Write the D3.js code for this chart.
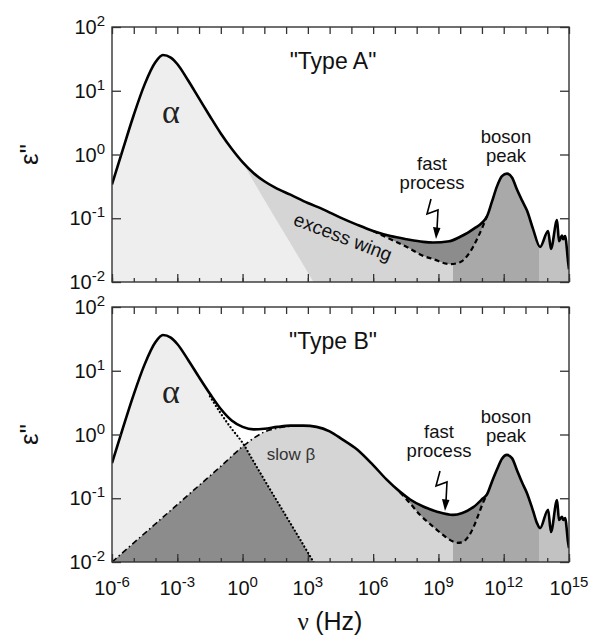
<!DOCTYPE html>
<html><head><meta charset="utf-8">
<script src="https://cdn.jsdelivr.net/npm/d3@7"></script>
<style>body{margin:0;background:#fff;}</style>
</head><body><svg id="c" width="592" height="635" font-family="Liberation Sans, Arial, sans-serif"></svg>
<script>
// ---- data (log10 of frequency in Hz, log10 of eps'') ----
const alphaNu  = [-6,-5.5,-5,-4.5,-4,-3.66,-3.3,-3,-2.5,-2,-1.5,-1,-0.5,0,0.5,1,2,3,3.6];
const alphaEps = [-0.47,0.08,0.62,1.1,1.45,1.56,1.52,1.42,1.16,0.88,0.6,0.33,0.09,-0.13,-0.42,-0.71,-1.28,-1.85,-2.2];

const totalANu  = [-6,-5.5,-5,-4.5,-4,-3.66,-3.3,-3,-2.5,-2,-1.5,-1,-0.5,0,0.5,1,1.5,2.2,3,3.7,4.5,5.25,6,6.8,7.55,8.3,8.75,9.5,10,10.6,11.23,11.46,11.69,11.92,12.15,12.38,12.61,12.84,13.07,13.35,13.67,14.04,14.17,14.45,14.54,14.68,14.73,14.82,14.96,15];
const totalAEps = [-0.47,0.08,0.62,1.1,1.45,1.56,1.52,1.42,1.16,0.88,0.6,0.33,0.09,-0.12,-0.29,-0.42,-0.52,-0.63,-0.76,-0.86,-0.99,-1.1,-1.2,-1.28,-1.33,-1.37,-1.38,-1.36,-1.29,-1.17,-0.97,-0.74,-0.5,-0.34,-0.3,-0.36,-0.55,-0.72,-0.88,-1.17,-1.45,-1.2,-1.48,-1.03,-1.36,-1.27,-1.33,-1.28,-1.69,-1.8];
const dashedANu  = [6,6.8,7.55,8.3,8.75,9.53,9.99,10.45,10.77,11.05,11.23];
const dashedAEps = [-1.2,-1.33,-1.45,-1.59,-1.64,-1.72,-1.69,-1.53,-1.33,-1.12,-0.97];

const totalBNu  = [-6,-5.5,-5,-4.5,-4,-3.66,-3.3,-3,-2.5,-2,-1.5,-1,-0.5,0,0.5,1,1.6,2.2,2.8,3.4,4,4.6,5.25,6,6.6,7.24,7.7,8.3,8.94,9.67,10.1,10.6,11.05,11.23,11.46,11.69,11.92,12.15,12.38,12.61,12.84,13.07,13.35,13.53,13.67,14.04,14.17,14.45,14.54,14.68,14.73,14.82,14.96,15];
const totalBEps = [-0.45,0.1,0.63,1.1,1.45,1.56,1.52,1.42,1.17,0.9,0.64,0.4,0.22,0.12,0.08,0.09,0.12,0.14,0.14,0.12,0.05,-0.08,-0.23,-0.48,-0.7,-0.9,-1.02,-1.13,-1.21,-1.26,-1.23,-1.14,-1.0,-0.94,-0.74,-0.55,-0.38,-0.32,-0.37,-0.56,-0.75,-0.92,-1.2,-1.39,-1.47,-1.18,-1.53,-1.03,-1.34,-1.29,-1.34,-1.31,-1.7,-1.78];
const betaBNu  = [-6,-5,-4,-3,-2,-1,0,0.5,1,1.6,2.2,2.8,3.4,4,4.6,5.25,6,6.6,7.24];
const betaBEps = [-2.0,-1.7,-1.4,-1.1,-0.8,-0.5,-0.19,-0.06,0.04,0.1,0.13,0.13,0.11,0.04,-0.09,-0.24,-0.49,-0.71,-0.91];
const dashedBNu  = [7.24,7.7,8.15,8.6,8.94,9.3,9.67,9.85,10.1,10.31,10.55,10.77,11.05,11.23];
const dashedBEps = [-0.91,-1.08,-1.26,-1.4,-1.5,-1.6,-1.68,-1.7,-1.69,-1.63,-1.5,-1.32,-1.07,-0.94];

// region edges (log10 Hz)
const fastEdgesA = [6, 11.23];
const fastEdgesB = [7.24, 11.23];
const bosonEdges = [9.67, 13.62];
const tailEdges  = [13.62, 15];

const xMajor = [-6,-3,0,3,6,9,12,15];
const xAll = d3.range(-6,16);
const yDecades = [-2,-1,0,1,2];
const panelTitles = ['"Type A"', '"Type B"'];

// ---- drawing ----
const svg = d3.select("#c");
const defs = svg.append("defs");
const X0 = 112, X1 = 569;
const SERIF = "Liberation Serif, 'DejaVu Serif', serif";
const x = d3.scaleLog().domain([1e-6,1e15]).range([X0,X1]);
const P = (a,b)=>a.map((v,i)=>({nu:Math.pow(10,v), eps:Math.pow(10,b[i])}));
const C = {lightest:'#eeeeee', light:'#d5d5d5', dark:'#8c8c8c', boson:'#a9a9a9', tail:'#c2c2c2'};

const totalA = P(totalANu,totalAEps), dashedA = P(dashedANu,dashedAEps);
const totalB = P(totalBNu,totalBEps), dashedB = P(dashedBNu,dashedBEps), betaB = P(betaBNu,betaBEps);
const alpha = P(alphaNu,alphaEps);
const baseA = totalA.filter(d=>d.nu<1e6).concat(dashedA, totalA.filter(d=>d.nu>Math.pow(10,11.23)));
const baseB = betaB.concat(dashedB.slice(1), totalB.filter(d=>d.nu>Math.pow(10,11.23)));

const panels = [
  {top:27, bottom:282, total:totalA, dashed:dashedA, base:baseA, fast:fastEdgesA, type:'A',
   fastTxt:[143,162], fastX:432, tip:[436,239]},
  {top:307, bottom:562, total:totalB, dashed:dashedB, base:baseB, fast:fastEdgesB, type:'B',
   fastTxt:[131,150], fastX:439, tip:[445,511]}
];

panels.forEach((p,i)=>{
  const y = d3.scaleLog().domain([1e-2,1e2]).range([p.bottom,p.top]);
  const line = d3.line().x(d=>x(d.nu)).y(d=>y(d.eps)).curve(d3.curveMonotoneX);
  const area = d3.area().x(d=>x(d.nu)).y0(p.bottom+10).y1(d=>y(d.eps)).curve(d3.curveMonotoneX);
  const clipId = (n)=>`c${i}_${n}`;
  const rectClip = (n, e0, e1)=>{
    defs.append("clipPath").attr("id",clipId(n)).append("rect")
      .attr("x", x(Math.pow(10,e0))).attr("y", p.top)
      .attr("width", x(Math.pow(10,e1))-x(Math.pow(10,e0))).attr("height", p.bottom-p.top);
  };
  rectClip("plot",-6,15);
  rectClip("fast",p.fast[0],p.fast[1]);
  rectClip("light",-6,bosonEdges[0]);
  rectClip("boson",bosonEdges[0],bosonEdges[1]);
  rectClip("tail",tailEdges[0],tailEdges[1]);

  const g = svg.append("g");
  const fills = g.append("g");
  fills.append("path").attr("d",area(p.total)).attr("fill",C.dark).attr("clip-path",`url(#${clipId("fast")})`);
  fills.append("path").attr("d",area(p.base)).attr("fill",C.light).attr("clip-path",`url(#${clipId("light")})`);
  fills.append("path").attr("d",area(p.base)).attr("fill",C.boson).attr("clip-path",`url(#${clipId("boson")})`);
  fills.append("path").attr("d",area(p.base)).attr("fill",C.tail).attr("clip-path",`url(#${clipId("tail")})`);
  fills.append("path").attr("d",area(alpha)).attr("fill",C.lightest).attr("clip-path",`url(#${clipId("plot")})`);
  if(p.type==='B'){
    defs.append("clipPath").attr("id",clipId("alpha")).append("path").attr("d",area(alpha));
    fills.append("g").attr("clip-path",`url(#${clipId("plot")})`)
      .append("path").attr("d",area(betaB)).attr("fill",C.dark).attr("clip-path",`url(#${clipId("alpha")})`);
  }

  const lines = g.append("g").attr("clip-path",`url(#${clipId("plot")})`).attr("fill","none").attr("stroke","#000");
  if(p.type==='B'){
    lines.append("path").attr("d",line(alpha.filter(d=>d.nu>=Math.pow(10,-1.5))))
      .attr("stroke-width",2.2).attr("stroke-dasharray","0.1,3.6").attr("stroke-linecap","round");
    lines.append("path").attr("d",line(betaB.filter(d=>d.nu<=Math.pow(10,2.2))))
      .attr("stroke-width",1.6).attr("stroke-dasharray","6,3,1.5,3");
  }
  lines.append("path").attr("d",line(p.dashed)).attr("stroke-width",2.2).attr("stroke-dasharray","5,3.5");
  lines.append("path").attr("d",line(p.total)).attr("stroke-width",2.6).attr("stroke-linejoin","round");

  // axes (inward ticks)
  const ax = svg.append("g").attr("stroke","#333");
  const tv = e=>e.map(v=>Math.pow(10,v));
  ax.append("g").attr("transform",`translate(0,${p.bottom})`)
    .call(d3.axisBottom(x).tickValues(tv(xAll)).tickSize(-4).tickFormat(""));
  ax.append("g").attr("transform",`translate(0,${p.bottom})`)
    .call(d3.axisBottom(x).tickValues(tv(xMajor)).tickSize(-8).tickFormat(""));
  ax.append("g").attr("transform",`translate(0,${p.top})`)
    .call(d3.axisTop(x).tickValues(tv(xAll)).tickSize(-7).tickFormat(""));
  ax.append("g").attr("transform",`translate(${X0},0)`)
    .call(d3.axisLeft(y).tickValues(tv(yDecades)).tickSize(-9).tickFormat(""));
  ax.append("g").attr("transform",`translate(${X1},0)`)
    .call(d3.axisRight(y).tickValues(tv(yDecades)).tickSize(-9).tickFormat(""));
  ax.selectAll(".domain").remove();
  ax.selectAll(".tick line").attr("stroke","#333").attr("stroke-width",1.3);
  svg.append("rect").attr("x",X0).attr("y",p.top).attr("width",X1-X0).attr("height",p.bottom-p.top)
    .attr("fill","none").attr("stroke","#333").attr("stroke-width",1.4);

  // y tick labels
  yDecades.forEach(e=>{
    const t = svg.append("text").attr("x",105).attr("y",y(Math.pow(10,e))+7)
      .attr("text-anchor","end").attr("font-size",20).attr("fill","#111");
    t.append("tspan").text("10");
    t.append("tspan").attr("dy",-8).attr("font-size",15).text(String(e));
  });
  // y label
  svg.append("text").attr("transform",`translate(38,${y(1)}) rotate(-90)`)
    .attr("text-anchor","middle").attr("font-size",26).attr("fill","#111").text('ε"');

  // titles & annotations
  svg.append("text").attr("x",333).attr("y",p.top+42).attr("text-anchor","middle")
    .attr("font-size",23).attr("fill","#111").text(panelTitles[i]);
  svg.append("text").attr("x",171).attr("y",p.top+96).attr("text-anchor","middle")
    .style("font-family",SERIF).attr("font-size",34).attr("fill","#222").text("α");
  const ann = (tx,ty,s,fs)=>svg.append("text").attr("x",tx).attr("y",ty).attr("text-anchor","middle")
    .attr("font-size",fs||18.5).attr("fill","#111").text(s);
  ann(p.fastX,p.top+p.fastTxt[0],"fast");
  ann(p.fastX,p.top+p.fastTxt[1],"process");
  ann(506,p.top+116,"boson");
  ann(506,p.top+135,"peak");
  // lightning arrow
  const [tx,ty] = p.tip;
  const bolt = [[-5,-40],[-9,-25],[2,-29],[1,-10]].map(d=>[tx+d[0],ty+d[1]]);
  svg.append("path").attr("d",d3.line()(bolt)).attr("fill","none").attr("stroke","#000").attr("stroke-width",1.6);
  svg.append("path").attr("d",d3.line()([[tx-3,ty-12],[tx+4.5,ty-11],[tx,ty]])+"Z").attr("fill","#000");

  if(p.type==='A'){
    svg.append("text").attr("transform","translate(343,237) rotate(21)").attr("text-anchor","middle")
      .attr("dominant-baseline","central").attr("font-size",19).attr("fill","#111").text("excess wing");
  } else {
    svg.append("text").attr("x",291).attr("y",460).attr("text-anchor","middle")
      .attr("font-size",17).attr("fill","#333").text("slow β");
    // x tick labels
    xMajor.forEach(e=>{
      const t = svg.append("text").attr("x",x(Math.pow(10,e))).attr("y",p.bottom+33)
        .attr("text-anchor","middle").attr("font-size",20).attr("fill","#111");
      t.append("tspan").text("10");
      t.append("tspan").attr("dy",-8).attr("font-size",15).text(String(e));
    });
    const xl = svg.append("text").attr("x",330).attr("y",630).attr("text-anchor","middle")
      .attr("font-size",25).attr("fill","#111");
    xl.append("tspan").style("font-family",SERIF).text("ν ");
    xl.append("tspan").text("(Hz)");
  }
});
</script></body></html>
